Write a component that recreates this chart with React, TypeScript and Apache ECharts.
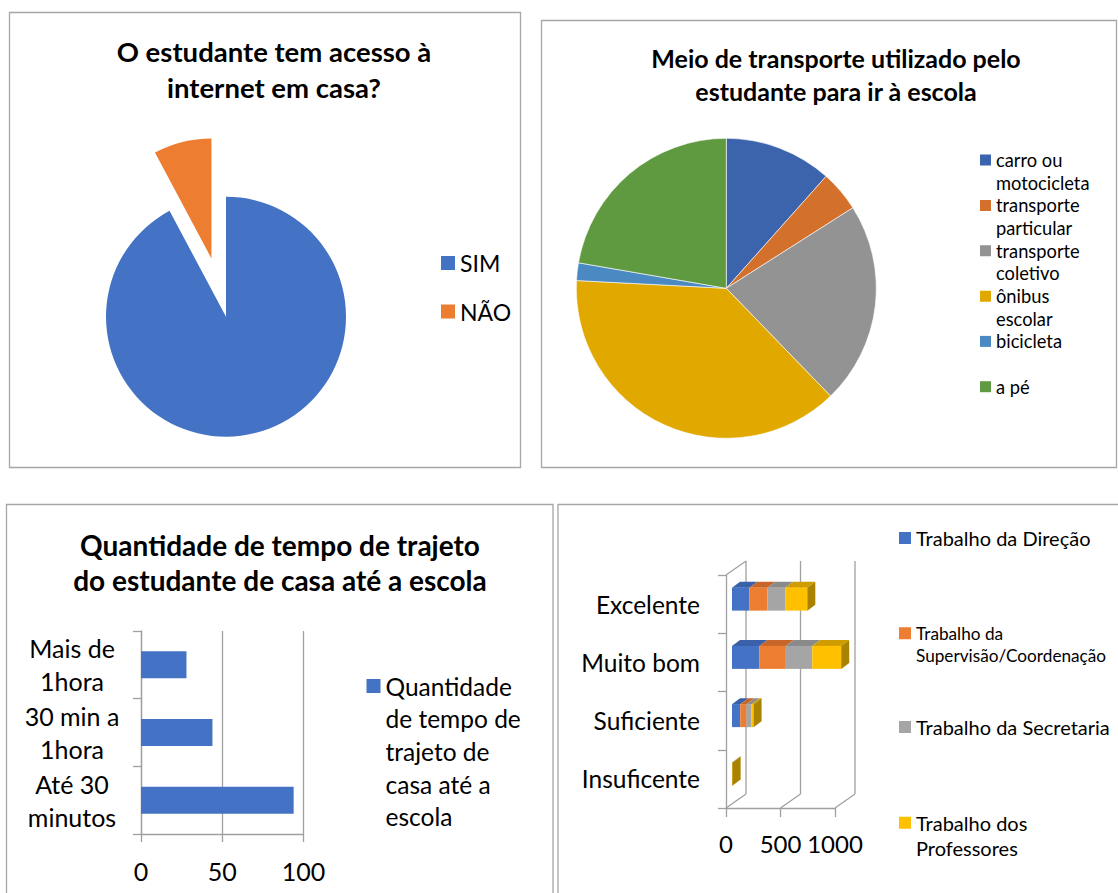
import React, { useEffect, useRef } from "react";
import * as echarts from "echarts";

// ---------- DATA ----------
const internetCategories = ["SIM", "NÃO"];
const internetValues = [92.2, 7.8];
const internetColors = ["#4472c4", "#ed7d31"];

const transportCategories = [
  "carro ou motocicleta",
  "transporte particular",
  "transporte coletivo",
  "ônibus escolar",
  "bicicleta",
  "a pé",
];
const transportLegendLines = [
  "carro ou\nmotocicleta",
  "transporte\nparticular",
  "transporte\ncoletivo",
  "ônibus\nescolar",
  "bicicleta",
  "a pé",
];
const transportValues = [11.6, 4.4, 21.8, 38.1, 1.9, 22.3];
const transportColors = ["#3c64ac", "#d2702c", "#939393", "#e1a900", "#4a89c1", "#5f9a40"];

const tripCategories = ["Até 30\nminutos", "30 min a\n1hora", "Mais de\n1hora"];
const tripValues = [94, 44, 28];
const tripSeriesName = "Quantidade de tempo de trajeto de casa até a escola";
const tripLegendText = "Quantidade\nde tempo de\ntrajeto de\ncasa até a\nescola";
const tripTicks = [0, 50, 100];

const ratingCategories = ["Excelente", "Muito bom", "Suficiente", "Insuficente"];
const ratingSeries = [
  "Trabalho da Direção",
  "Trabalho da Supervisão/Coordenação",
  "Trabalho da Secretaria",
  "Trabalho dos Professores",
];
const ratingLegendLines = [
  "Trabalho da Direção",
  "Trabalho da\nSupervisão/Coordenação",
  "Trabalho da Secretaria",
  "Trabalho dos\nProfessores",
];
const direcaoValues = [160, 252, 76, 2];
const supervisaoValues = [165, 242, 57, 1];
const secretariaValues = [163, 242, 45, 1];
const professoresValues = [203, 266, 20, 2];
const ratingTicks = [0, 500, 1000];
const ratingFront = ["#4472c4", "#ed7d31", "#a5a5a5", "#ffc000"];
const ratingTop = ["#3a60a8", "#c8662a", "#8a8a8a", "#cf9c00"];
const ratingSide = "#a98300";

// ---------- STYLE ----------
const FONT = "Lato, 'Open Sans', sans-serif";
const TEXT = "#000";
const AXIS = "#a0a0a0";
const BORDER = "#a6a6a6";

// Legend item whose square icon lines up with the first text line.
// The icon is a square path whose bounding box is stretched downward by an
// invisible segment, so the text block (centred on the icon box) starts level with the square.
function legendAt(
  name: string,
  label: string,
  iconX: number,
  firstY: number,
  lh: number,
  fontSize: number,
  icon: number
) {
  const lines = label.split("\n").length;
  const itemHeight = icon + (lines - 1) * lh;
  const h = itemHeight / icon;
  const iconPath =
    lines > 1 ? `path://M0,0L1,0L1,1L0,1Z M0,${h.toFixed(4)}L1,${h.toFixed(4)}` : "rect";
  return {
    show: true,
    orient: "vertical",
    left: iconX,
    top: firstY - Math.max(lh, icon) / 2,
    padding: 0,
    data: [name],
    icon: iconPath,
    itemWidth: icon,
    itemHeight,
    selectedMode: false,
    formatter: () => label,
    itemStyle: { borderWidth: 0 },
    textStyle: {
      fontFamily: FONT,
      fontSize,
      lineHeight: lh,
      color: TEXT,
    },
  };
}

function buildOption() {
  const ratingValues = [direcaoValues, supervisaoValues, secretariaValues, professoresValues];

  const legends: any[] = [];
  // panel 1
  legends.push(legendAt("SIM", "SIM", 441, 263, 28, 23, 14));
  legends.push(legendAt("NÃO", "NÃO", 441, 311.5, 28, 23, 14));
  // panel 2
  const tY = [160, 205.4, 250.8, 296.2, 341.4, 386.7];
  transportCategories.forEach((c, i) =>
    legends.push(legendAt(c, transportLegendLines[i], 980, tY[i], 22.7, 18.3, 11))
  );
  // panel 3
  legends.push(legendAt(tripSeriesName, tripLegendText, 366.5, 686, 32.7, 24.5, 14));
  // panel 4
  const rY = [538, 633.3, 727, 822.7];
  const rLh = [25, 22.7, 25, 25.7];
  const rFs = [20, 17.2, 20, 20];
  ratingSeries.forEach((s, i) =>
    legends.push(legendAt(s, ratingLegendLines[i], 899, rY[i], rLh[i], rFs[i], 12))
  );

  // 3D bar geometry
  const FRONT_DX = 6,
    FRONT_DY = -5,
    BAR_H = 23,
    DX = 8,
    DY = -6,
    WX = 20,
    WY = -14;

  const ratingCustom = ratingSeries.map((name, si) => {
    const data = ratingCategories.map((_, j) => {
      let start = 0;
      for (let k = 0; k < si; k++) start += ratingValues[k][j];
      return [start, start + ratingValues[si][j], j];
    });
    const isLast = si === ratingSeries.length - 1;
    return {
      type: "custom",
      name,
      xAxisIndex: 1,
      yAxisIndex: 1,
      z: 3,
      silent: true,
      clip: false,
      itemStyle: { color: ratingFront[si] },
      encode: { x: [0, 1], y: 2 },
      data,
      renderItem: (params: any, api: any) => {
        const start = api.value(0);
        const end = api.value(1);
        const cat = api.value(2);
        const p0 = api.coord([start, cat]);
        const p1 = api.coord([end, cat]);
        const x0 = p0[0] + FRONT_DX;
        const x1 = p1[0] + FRONT_DX;
        const yc = p0[1] + FRONT_DY;
        const yt = yc - BAR_H / 2;
        const yb = yc + BAR_H / 2;
        const children: any[] = [
          {
            type: "polygon",
            shape: { points: [[x0, yt], [x1, yt], [x1 + DX, yt + DY], [x0 + DX, yt + DY]] },
            style: { fill: ratingTop[si] },
          },
          {
            type: "rect",
            shape: { x: x0, y: yt, width: Math.max(x1 - x0, 0.6), height: BAR_H },
            style: { fill: ratingFront[si] },
          },
        ];
        if (isLast) {
          children.push({
            type: "polygon",
            shape: { points: [[x1, yt], [x1 + DX, yt + DY], [x1 + DX, yb + DY], [x1, yb]] },
            style: { fill: ratingSide },
          });
        }
        return { type: "group", children };
      },
    };
  });

  const wall = {
    type: "custom",
    xAxisIndex: 1,
    yAxisIndex: 1,
    z: 1,
    silent: true,
    clip: false,
    encode: { x: 0, y: 1 },
    data: ratingTicks.map((v) => [v, 0]),
    renderItem: (params: any, api: any) => {
      const cs = params.coordSys;
      const x = api.coord([api.value(0), 0])[0];
      const yB = cs.y + cs.height;
      const yT = cs.y;
      const ls = { stroke: AXIS, lineWidth: 1.3 };
      const children: any[] = [
        { type: "line", shape: { x1: x, y1: yB, x2: x + WX, y2: yB + WY }, style: ls },
        { type: "line", shape: { x1: x + WX, y1: yB + WY, x2: x + WX, y2: yT + WY }, style: ls },
      ];
      if (api.value(0) === 0) {
        children.push({ type: "line", shape: { x1: x, y1: yT, x2: x + WX, y2: yT + WY }, style: ls });
      }
      return { type: "group", children };
    },
  };

  const plain = (v: number) => String(v);

  return {
    animation: false,
    backgroundColor: "#fff",
    textStyle: { fontFamily: FONT },
    legend: legends,
    grid: [
      { left: 141, top: 631, width: 162.4, height: 203 },
      { left: 726, top: 575, width: 109, height: 233 },
    ],
    xAxis: [
      {
        type: "value",
        gridIndex: 0,
        min: tripTicks[0],
        max: tripTicks[tripTicks.length - 1],
        interval: tripTicks[1] - tripTicks[0],
        axisLine: { show: true, lineStyle: { color: AXIS, width: 1.3 } },
        axisTick: { show: true, length: 8, lineStyle: { color: AXIS, width: 1.3 } },
        splitLine: { show: true, lineStyle: { color: AXIS, width: 1.3 } },
        axisLabel: { fontFamily: FONT, fontSize: 25, color: TEXT, margin: 24, formatter: plain },
      },
      {
        type: "value",
        gridIndex: 1,
        min: ratingTicks[0],
        max: ratingTicks[ratingTicks.length - 1],
        interval: ratingTicks[1] - ratingTicks[0],
        axisLine: { show: true, lineStyle: { color: AXIS, width: 1.3 } },
        axisTick: { show: true, length: 9, lineStyle: { color: AXIS, width: 1.3 } },
        splitLine: { show: false },
        axisLabel: { fontFamily: FONT, fontSize: 24, color: TEXT, margin: 23, formatter: plain },
      },
    ],
    yAxis: [
      {
        type: "category",
        gridIndex: 0,
        data: tripCategories,
        axisLine: { show: true, lineStyle: { color: AXIS, width: 1.3 } },
        axisTick: { show: true, length: 8, lineStyle: { color: AXIS, width: 1.3 } },
        axisLabel: {
          fontFamily: FONT,
          fontSize: 25,
          lineHeight: 33.3,
          color: TEXT,
          align: "center",
          margin: 69,
        },
      },
      {
        type: "category",
        gridIndex: 1,
        data: ratingCategories,
        inverse: true,
        axisLine: { show: true, lineStyle: { color: AXIS, width: 1.3 } },
        axisTick: { show: true, length: 8, lineStyle: { color: AXIS, width: 1.3 } },
        axisLabel: { fontFamily: FONT, fontSize: 24.5, color: TEXT, margin: 26 },
      },
    ],
    series: [
      {
        type: "pie",
        name: "internet",
        center: [226, 316.7],
        radius: 120,
        startAngle: 90,
        clockwise: true,
        selectedMode: "single",
        selectedOffset: 60,
        label: { show: false },
        labelLine: { show: false },
        emphasis: { disabled: true },
        data: internetCategories.map((n, i) => ({
          name: n,
          value: internetValues[i],
          selected: i === 1,
          itemStyle: { color: internetColors[i] },
        })),
      },
      {
        type: "pie",
        name: "transporte",
        center: [726.3, 288.3],
        radius: 150,
        startAngle: 90,
        clockwise: true,
        label: { show: false },
        labelLine: { show: false },
        emphasis: { disabled: true },
        itemStyle: { borderColor: "#ffffff", borderWidth: 0.6 },
        data: transportCategories.map((n, i) => ({
          name: n,
          value: transportValues[i],
          itemStyle: { color: transportColors[i] },
        })),
      },
      {
        type: "bar",
        name: tripSeriesName,
        xAxisIndex: 0,
        yAxisIndex: 0,
        data: tripValues,
        barWidth: 27,
        itemStyle: { color: "#4472c4" },
        emphasis: { disabled: true },
      },
      wall,
      ...ratingCustom,
    ],
    graphic: [
      { type: "rect", shape: { x: 9.5, y: 12.5, width: 511, height: 455 }, style: { fill: "none", stroke: BORDER, lineWidth: 1.3 }, silent: true },
      { type: "rect", shape: { x: 541.5, y: 20.5, width: 575, height: 447 }, style: { fill: "none", stroke: BORDER, lineWidth: 1.3 }, silent: true },
      { type: "rect", shape: { x: 6.5, y: 504.5, width: 546.5, height: 400 }, style: { fill: "none", stroke: BORDER, lineWidth: 1.3 }, silent: true },
      { type: "rect", shape: { x: 558, y: 504.5, width: 580, height: 400 }, style: { fill: "none", stroke: BORDER, lineWidth: 1.3 }, silent: true },
      {
        type: "text",
        x: 274,
        y: 69.5,
        silent: true,
        style: {
          text: "O estudante tem acesso à\ninternet em casa?",
          textAlign: "center",
          textVerticalAlign: "middle",
          font: `bold 27.5px ${FONT}`,
          lineHeight: 35.6,
          fill: TEXT,
        },
      },
      {
        type: "text",
        x: 836,
        y: 74.5,
        silent: true,
        style: {
          text: "Meio de transporte utilizado pelo\nestudante para ir à escola",
          textAlign: "center",
          textVerticalAlign: "middle",
          font: `bold 25px ${FONT}`,
          lineHeight: 32.4,
          fill: TEXT,
        },
      },
      {
        type: "text",
        x: 280,
        y: 562.5,
        silent: true,
        style: {
          text: "Quantidade de tempo de trajeto\ndo estudante de casa até a escola",
          textAlign: "center",
          textVerticalAlign: "middle",
          font: `bold 28px ${FONT}`,
          lineHeight: 35,
          fill: TEXT,
        },
      },
    ],
  };
}

export default function App() {
  const ref = useRef<HTMLDivElement>(null);
  useEffect(() => {
    const chart = echarts.init(ref.current!, null, { renderer: "svg" });
    chart.setOption(buildOption() as any);
    return () => chart.dispose();
  }, []);
  return (
    <div
      ref={ref}
      style={{ position: "absolute", left: 0, top: 0, width: 1118, height: 893, background: "#fff" }}
    />
  );
}
